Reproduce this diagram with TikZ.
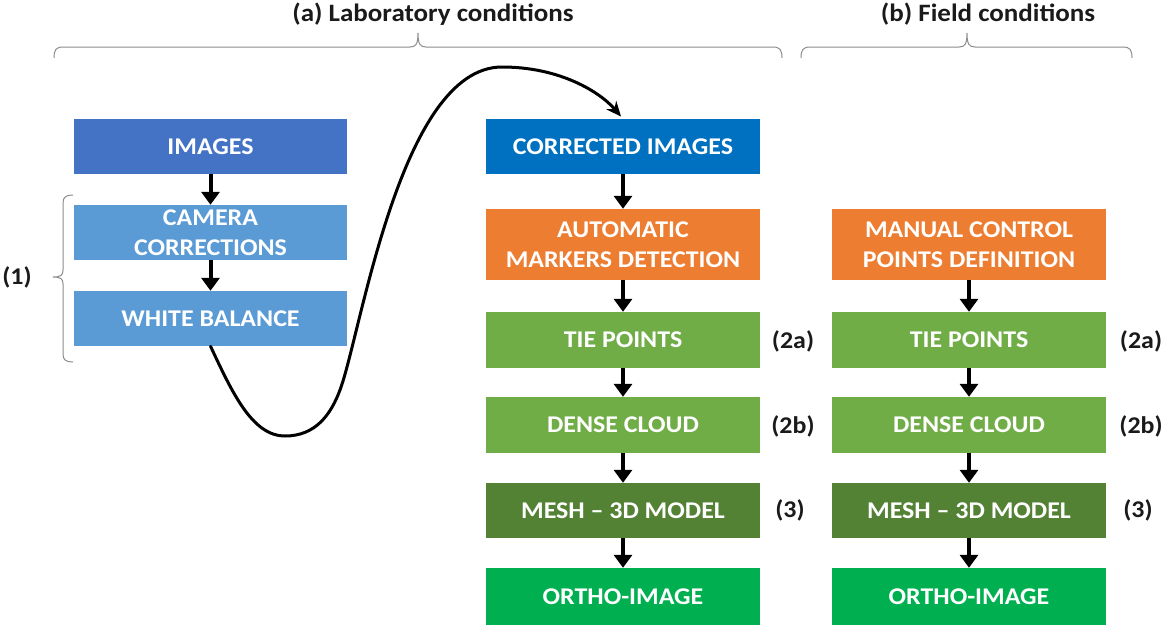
\documentclass[tikz,border=0pt]{standalone}
\usepackage{fontspec}
\setmainfont{Carlito}[FakeStretch=1.08]
\usetikzlibrary{arrows.meta}
\definecolor{cImages}{HTML}{4472C4}
\definecolor{cLight}{HTML}{5B9BD5}
\definecolor{cCorr}{HTML}{0070C0}
\definecolor{cOrange}{HTML}{ED7D31}
\definecolor{cGreen}{HTML}{70AD47}
\definecolor{cMesh}{HTML}{548235}
\definecolor{cOrtho}{HTML}{00B050}
\definecolor{cBrace}{HTML}{8C8C8C}
\definecolor{cLabel}{HTML}{1A1A1A}
\begin{document}
\begin{tikzpicture}[x=1pt,y=-1pt,
  box/.style={rectangle, inner sep=0pt, minimum width=274pt, minimum height=55pt,
    align=center, text=white, font=\bfseries\fontsize{24}{30}\selectfont},
  lbl/.style={inner sep=0pt, text=cLabel, font=\bfseries\fontsize{24}{28}\selectfont},
  ttl/.style={inner sep=0pt, text=cLabel, font=\bfseries\fontsize{25}{28}\selectfont},
  flow/.style={line width=4pt, -{Triangle[width=18pt,length=13pt]}},
  bracegray/.style={draw=cBrace, line width=1pt},
]
\useasboundingbox (0,0) rectangle (1164,627);
% left column
\node[box, fill=cImages, minimum width=273pt] (img) at (210.5,146.5) {IMAGES};
\node[box, fill=cLight, minimum width=273pt] (cam) at (210.5,232.5) {CAMERA\\CORRECTIONS};
\node[box, fill=cLight, minimum width=273pt] (wb) at (210.5,318.5) {WHITE BALANCE};
% middle column
\node[box, fill=cCorr] (ci) at (623,146.5) {CORRECTED IMAGES};
\node[box, fill=cOrange, minimum height=71pt] (amd) at (623,244.5) {AUTOMATIC\\MARKERS DETECTION};
\node[box, fill=cGreen, minimum height=56pt] (tpa) at (623,340) {TIE POINTS};
\node[box, fill=cGreen, minimum height=56pt] (dca) at (623,425) {DENSE CLOUD};
\node[box, fill=cMesh] (mea) at (623,510.5) {MESH -- 3D MODEL};
\node[box, fill=cOrtho, minimum height=57pt] (ora) at (623,596.5) {ORTHO-IMAGE};
% right column
\node[box, fill=cOrange, minimum height=71pt] (mcp) at (969,244.5) {MANUAL CONTROL\\POINTS DEFINITION};
\node[box, fill=cGreen, minimum height=56pt] (tpb) at (969,340) {TIE POINTS};
\node[box, fill=cGreen, minimum height=56pt] (dcb) at (969,425) {DENSE CLOUD};
\node[box, fill=cMesh] (meb) at (969,510.5) {MESH -- 3D MODEL};
\node[box, fill=cOrtho, minimum height=57pt] (orb) at (969,596.5) {ORTHO-IMAGE};
% arrows
\draw[flow] (img) -- (cam);
\draw[flow] (cam) -- (wb);
\draw[flow] (ci) -- (amd);
\draw[flow] (amd) -- (tpa);
\draw[flow] (tpa) -- (dca);
\draw[flow] (dca) -- (mea);
\draw[flow] (mea) -- (ora);
\draw[flow] (mcp) -- (tpb);
\draw[flow] (tpb) -- (dcb);
\draw[flow] (dcb) -- (meb);
\draw[flow] (meb) -- (orb);
% curve
\draw[line width=3pt, line cap=round, -{Stealth[length=15pt,width=13pt]}, shorten >=3pt]
  (wb.south) .. controls (232,392) and (252,436) .. (285,436)
  .. controls (316,436) and (331,414) .. (340,390)
  .. controls (361,334) and (400,67) .. (502,67)
  .. controls (560,67) and (600,92) .. (ci.north);
% labels
\node[lbl] (l2a) at (793,341) {(2a)};
\node[lbl] (l2b) at (793,426) {(2b)};
\node[lbl] (l3) at (790,510) {(3)};
\node[lbl] (r2a) at (1141,341) {(2a)};
\node[lbl] (r2b) at (1141,426) {(2b)};
\node[lbl] (r3) at (1138,510) {(3)};
\node[lbl] (l1) at (17,277) {(1)};
% braces
\draw[bracegray] (54,58) .. controls (54,50) and (56,47) .. (63,47) -- (410,47)
  .. controls (416,47) and (418,44) .. (418,33)
  .. controls (418,44) and (420,47) .. (426,47) -- (773,47)
  .. controls (780,47) and (782,50) .. (782,58);
\draw[bracegray] (801,58) .. controls (801,50) and (803,47) .. (810,47) -- (959,47)
  .. controls (965,47) and (967,44) .. (967,33)
  .. controls (967,44) and (969,47) .. (975,47) -- (1123,47)
  .. controls (1130,47) and (1132,50) .. (1132,58);
\draw[bracegray] (73,195) .. controls (66,195) and (63,197) .. (63,203) -- (63,270)
  .. controls (63,275) and (61,277) .. (53,277)
  .. controls (61,277) and (63,279) .. (63,284) -- (63,354)
  .. controls (63,360) and (66,362) .. (73,362);
\node[ttl, anchor=base] (ta) at (433,21) {(a) Laboratory conditions};
\node[ttl, anchor=base] (tb) at (988,21) {(b) Field conditions};
\end{tikzpicture}
\end{document}
